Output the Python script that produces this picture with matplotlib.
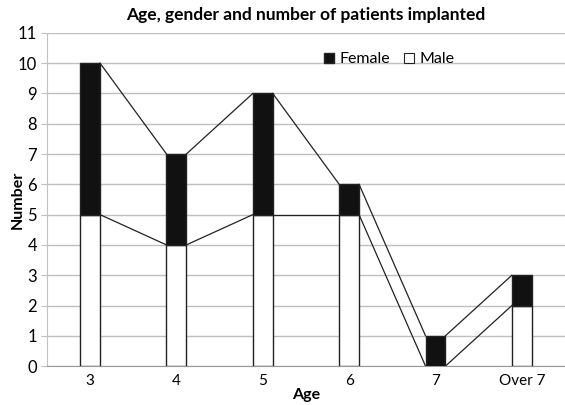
from matplotlib import pyplot as plt
from matplotlib.lines import Line2D
import numpy as np

plt.rcParams['font.family'] = ['Lato', 'DejaVu Sans']

ages = ['3', '4', '5', '6', '7', 'Over 7']
male = [5, 4, 5, 5, 0, 2]
female = [5, 3, 4, 1, 1, 1]

fig = plt.figure(figsize=(5.65, 4.05), dpi=100)
ax = fig.add_axes([0.083, 0.096, 0.917, 0.823])

x = np.arange(len(ages))
w = 0.23
ax.bar(x, male, w, color='white', edgecolor='#222222', linewidth=1, zorder=3)
ax.bar(x, female, w, bottom=male, color='#111111', edgecolor='#222222', linewidth=1,
       zorder=3)

# series lines between stacks
tops = np.array(male) + np.array(female)
for lev in (np.array(male), tops):
    for i in range(len(x) - 1):
        ax.plot([x[i] + w / 2, x[i + 1] - w / 2], [lev[i], lev[i + 1]],
                color='#222222', linewidth=0.9, zorder=2)

ax.set_xlim(-0.5, len(ages) - 0.5)
ax.set_ylim(0, 11)
ax.set_yticks(range(12))
ax.set_xticks(x)
ax.set_xticklabels(ages)
ax.yaxis.grid(True, color='#c0c0c0', linewidth=1)
ax.set_axisbelow(True)
for s in ['top', 'right']:
    ax.spines[s].set_visible(False)
ax.spines['left'].set_color('#c0c0c0')
ax.spines['bottom'].set_color('#999999')
ax.tick_params(axis='y', length=4, color='#c0c0c0', labelsize=12, pad=3)
ax.tick_params(axis='x', length=0, labelsize=11, pad=6)

ax.set_xlabel('Age', fontweight='bold', fontsize=11.5, labelpad=0)
ax.set_ylabel('Number', fontweight='bold', fontsize=11.5)
ax.yaxis.set_label_coords(-0.042, 0.5)
ax.set_title('Age, gender and number of patients implanted', fontweight='bold',
             fontsize=12.5, pad=9)

handles = [Line2D([], [], marker='s', linestyle='', markersize=7.5,
                  markerfacecolor='#111111', markeredgecolor='#222222'),
           Line2D([], [], marker='s', linestyle='', markersize=7.5,
                  markerfacecolor='white', markeredgecolor='#222222', markeredgewidth=0.8)]
ax.legend(handles, ['Female', 'Male'], loc='upper right', bbox_to_anchor=(0.815, 0.985),
          ncol=2, frameon=False, fontsize=11.5, handlelength=0.6,
          columnspacing=0.9, handletextpad=0.35)

fig.savefig('out.png', dpi=100)
